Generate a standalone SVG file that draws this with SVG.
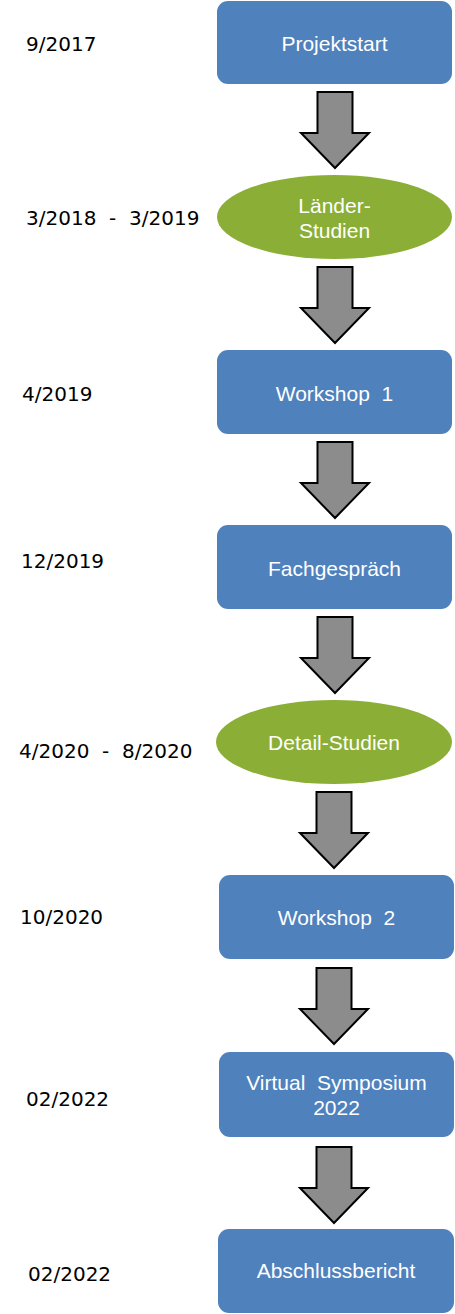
<svg xmlns="http://www.w3.org/2000/svg" xmlns:xlink="http://www.w3.org/1999/xlink" width="455" height="1314" viewBox="0 0 455 1314">
<style>
.box{fill:#4F81BD;}
.ell{fill:#8BAF36;}
.lbl{font-family:"Liberation Sans",Arial,sans-serif;font-size:21px;fill:#FFFFFF;text-anchor:middle;white-space:pre;}
.date{font-family:"DejaVu Sans",Verdana,sans-serif;font-size:20px;fill:#000000;white-space:pre;}
.arr{fill:#8C8C8C;stroke:#000000;stroke-width:2;stroke-linejoin:miter;}
</style>
<defs>
<path id="arrow" d="M-17.5,0 H17.5 V41 H34 L0,76 L-34,41 H-17.5 Z"/>
</defs>
<rect width="455" height="1314" fill="#FFFFFF"/>
<g id="connectors" class="arr">
<use xlink:href="#arrow" href="#arrow" x="335" y="92"/>
<use xlink:href="#arrow" href="#arrow" x="335" y="267"/>
<use xlink:href="#arrow" href="#arrow" x="335" y="442"/>
<use xlink:href="#arrow" href="#arrow" x="335" y="617"/>
<use xlink:href="#arrow" href="#arrow" x="334" y="792"/>
<use xlink:href="#arrow" href="#arrow" x="334" y="968"/>
<use xlink:href="#arrow" href="#arrow" x="334" y="1147"/>
</g>
<g id="n1"><rect class="box" x="217" y="1" width="235" height="83" rx="11"/><text class="lbl" x="334.5" y="51">Projektstart</text></g>
<g id="n2"><ellipse class="ell" cx="334.5" cy="217" rx="117.5" ry="42"/><text class="lbl" x="334.5" y="213">Länder-</text><text class="lbl" x="334.5" y="238">Studien</text></g>
<g id="n3"><rect class="box" x="217" y="350" width="235" height="84" rx="11"/><text class="lbl" x="334.5" y="401">Workshop  1</text></g>
<g id="n4"><rect class="box" x="217" y="525" width="235" height="84" rx="11"/><text class="lbl" x="334.5" y="576">Fachgespräch</text></g>
<g id="n5"><ellipse class="ell" cx="334" cy="742" rx="118" ry="42"/><text class="lbl" x="334" y="750">Detail-Studien</text></g>
<g id="n6"><rect class="box" x="219" y="875" width="235" height="84" rx="11"/><text class="lbl" x="336.5" y="925">Workshop  2</text></g>
<g id="n7"><rect class="box" x="219" y="1052" width="235" height="85" rx="11"/><text class="lbl" x="336.5" y="1090">Virtual  Symposium</text><text class="lbl" x="336.5" y="1115">2022</text></g>
<g id="n8"><rect class="box" x="218" y="1229" width="236" height="84" rx="11"/><text class="lbl" x="336" y="1278">Abschlussbericht</text></g>
<g id="dates">
<text class="date" x="26" y="51">9/2017</text>
<text class="date" x="26" y="225">3/2018  -  3/2019</text>
<text class="date" x="22" y="401">4/2019</text>
<text class="date" x="21" y="568">12/2019</text>
<text class="date" x="19" y="758">4/2020  -  8/2020</text>
<text class="date" x="20" y="924">10/2020</text>
<text class="date" x="26" y="1106">02/2022</text>
<text class="date" x="28" y="1281">02/2022</text>
</g>
</svg>
